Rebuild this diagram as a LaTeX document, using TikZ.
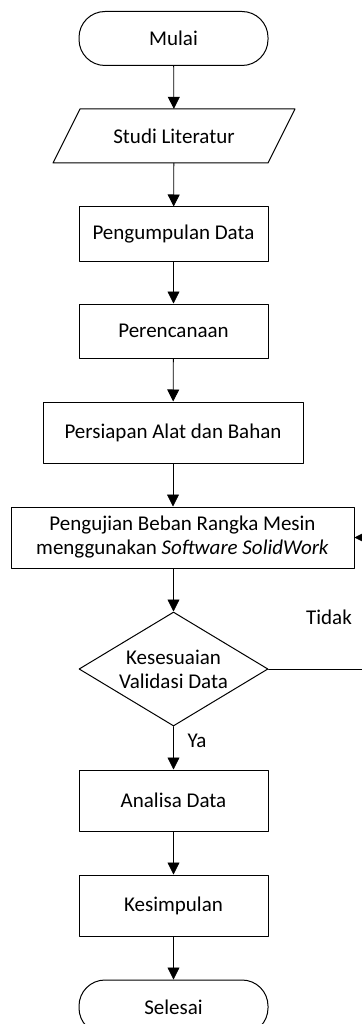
\documentclass[tikz,border=0pt]{standalone}
\usepackage{fontspec}
\setmainfont{Carlito}
\usetikzlibrary{positioning, calc, shapes.geometric, arrows.meta}

\begin{document}
\begin{tikzpicture}[x=1pt,y=-1pt, line cap=round, line join=round,
  every node/.style={font=\fontsize{21}{24}\selectfont, align=center, inner sep=0pt},
  terminal/.style={draw, line width=1pt, rounded corners=26pt, minimum width=189pt, minimum height=54pt},
  process/.style={draw, line width=1pt, minimum width=189pt, minimum height=54pt},
  decision/.style={draw, line width=1pt, diamond, aspect=1.66, minimum width=189pt, minimum height=114pt},
  flow/.style={line width=0.8pt, -{Triangle[width=12pt,length=12pt]}}]

\useasboundingbox (0,0) rectangle (361,1024);

\node[terminal] (mulai) at (173.5,38.5) {Mulai};

\node[minimum width=188pt, minimum height=54pt] (studi) at (174,136) {Studi Literatur};
\draw[line width=1pt] ($(studi.center)+(-94,-27)$) -- ($(studi.center)+(121,-27)$)
  -- ($(studi.center)+(94,27)$) -- ($(studi.center)+(-121,27)$) -- cycle;

\node[process] (kumpul) at (173.5,234) {Pengumpulan Data};
\node[process] (rencana) at (173.5,331) {Perencanaan};
\node[process, minimum width=260pt, minimum height=61pt] (siap) at (173,432.5) {Persiapan Alat dan Bahan};
\node[process, minimum width=343pt, minimum height=61pt] (uji) at (182.5,537.5)
  {Pengujian Beban Rangka Mesin\\menggunakan \textit{Software SolidWork}};

\node[decision] (valid) at (173.5,669) {Kesesuaian\\Validasi Data};

\node[process, minimum height=61pt] (analisa) at (173.5,800.5) {Analisa Data};
\node[process, minimum height=61pt] (simpul) at (173.5,905.5) {Kesimpulan};
\node[terminal] (selesai) at (173.5,1007) {Selesai};

\coordinate (b1) at (366,669);
\coordinate (b2) at (366,537.5);

\draw[flow] (mulai) -- (studi);
\draw[flow] (studi) -- (kumpul);
\draw[flow] (kumpul) -- (rencana);
\draw[flow] (rencana) -- (siap);
\draw[flow] (siap.south) -- (siap.south |- uji.north);
\draw[flow] (uji.south -| valid.north) -- (valid);
\draw[flow] (valid) -- (analisa);
\draw[flow] (analisa) -- (simpul);
\draw[flow] (simpul) -- (selesai);

% jalur balik
\draw[flow] (valid.east) -- (b1) -- (b2) -- (uji.east);

\node (tidak) at (329,617) {Tidak};
\node (ya) at (197,741) {Ya};

\end{tikzpicture}
\end{document}
